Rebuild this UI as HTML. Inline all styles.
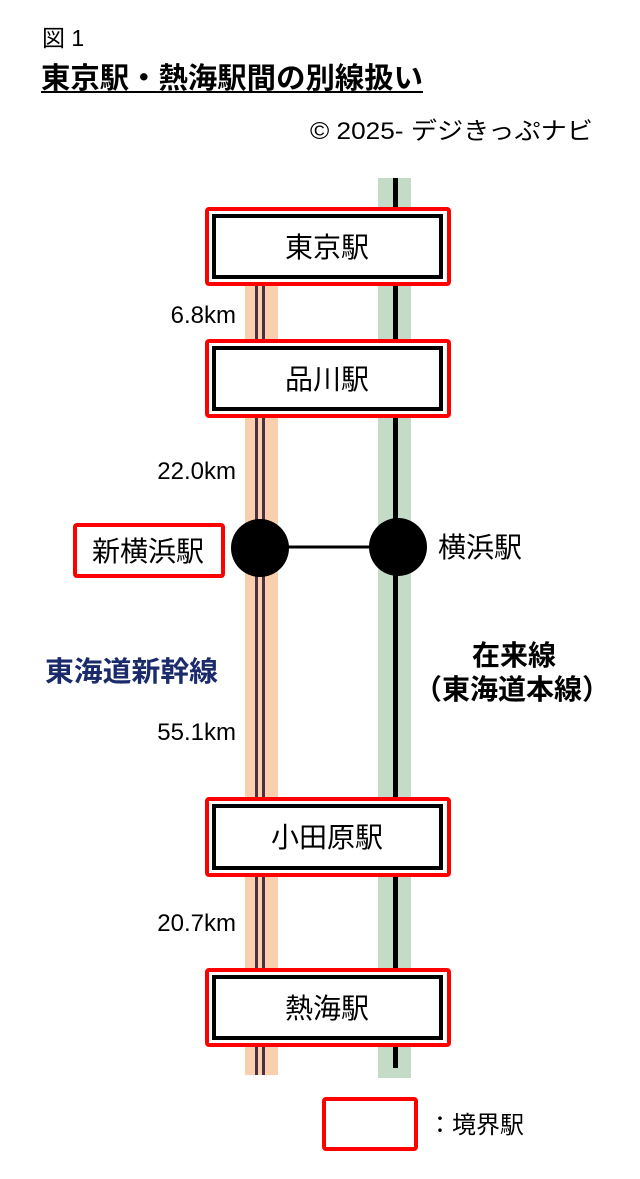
<!DOCTYPE html>
<html><head><meta charset="utf-8"><style>
html,body{margin:0;padding:0;background:#fff}
svg{display:block}
text{font-family:"Liberation Sans","Noto Sans CJK JP",sans-serif}
.j{font-family:"Noto Sans CJK JP",sans-serif}
</style></head><body>
<svg width="640" height="1179" viewBox="0 0 640 1179" xmlns="http://www.w3.org/2000/svg">
<text x="42" y="46" font-size="23">図 1</text>
<text x="41" y="88" font-size="29" font-weight="bold" textLength="382" lengthAdjust="spacingAndGlyphs">東京駅・熱海駅間の別線扱い</text>
<rect x="41" y="91" width="382" height="2" fill="#000"/>
<text x="310" y="139" font-size="24" textLength="283" lengthAdjust="spacingAndGlyphs">© 2025- デジきっぷナビ</text>

<rect x="245" y="285" width="33" height="790" fill="#f9cfae"/>
<rect x="378" y="178" width="33" height="900" fill="#c3dbc7"/>
<rect x="255" y="285" width="3" height="790" fill="#4a3040"/>
<rect x="262" y="285" width="3" height="790" fill="#4a3040"/>
<rect x="393" y="178" width="5" height="890" fill="#000"/>

<line x1="260" y1="547" x2="398" y2="547" stroke="#000" stroke-width="3"/>
<circle cx="260" cy="548" r="29" fill="#000"/>
<circle cx="398" cy="547" r="29" fill="#000"/>

<g fill="#fff" stroke="#f00" stroke-width="4">
<rect x="207" y="209" width="242" height="75" rx="2"/>
<rect x="207" y="341" width="242" height="75" rx="2"/>
<rect x="207" y="799" width="242" height="76" rx="2"/>
<rect x="207" y="970" width="242" height="75" rx="2"/>
<rect x="75" y="525" width="148" height="51" rx="2"/>
<rect x="324" y="1099" width="92" height="50" rx="2"/>
</g>
<g fill="#fff" stroke="#000" stroke-width="4">
<rect x="214" y="216" width="227" height="61"/>
<rect x="214" y="348" width="227" height="61"/>
<rect x="214" y="806" width="227" height="62"/>
<rect x="214" y="977" width="227" height="61"/>
</g>
<g font-size="28" text-anchor="middle">
<text x="327" y="257">東京駅</text>
<text x="327" y="389">品川駅</text>
<text x="327" y="847">小田原駅</text>
<text x="327" y="1018">熱海駅</text>
<text x="148" y="561">新横浜駅</text>
</g>
<text x="438" y="557" font-size="28">横浜駅</text>
<g font-size="24" text-anchor="end" class="j">
<text x="236" y="323">6.8km</text>
<text x="236" y="479">22.0km</text>
<text x="236" y="740">55.1km</text>
<text x="236" y="931">20.7km</text>
</g>
<text x="45" y="681" font-size="28" font-weight="bold" fill="#1a2a6a" textLength="173" lengthAdjust="spacingAndGlyphs">東海道新幹線</text>
<g font-size="28" font-weight="bold" text-anchor="middle">
<text x="514" y="665">在来線</text>
<text x="512" y="699">（東海道本線）</text>
</g>
<text x="428" y="1133" font-size="24">：境界駅</text>
</svg>
</body></html>
